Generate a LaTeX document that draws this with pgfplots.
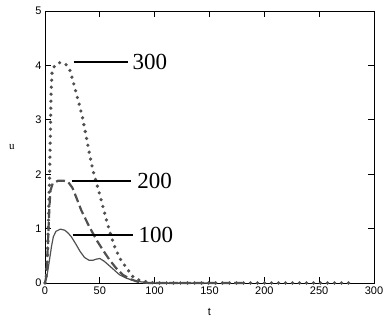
\documentclass[border=0pt]{standalone}
\usepackage{fontspec}
\setmainfont{Liberation Sans}
\newfontfamily\serifx{Liberation Serif}
\usepackage{pgfplots}
\pgfplotsset{compat=1.18}
\definecolor{curve}{RGB}{80,80,80}
\begin{document}
\begin{tikzpicture}
\useasboundingbox (-45pt,-38pt) rectangle (342pt,283pt);
\begin{axis}[
  at={(0,0)}, anchor=south west,
  scale only axis, width=329pt, height=272pt,
  xmin=0, xmax=300, ymin=0, ymax=5,
  xtick={0,50,...,300}, ytick={0,1,...,5},
  tick align=inside, major tick length=6pt,
  tick style={black, line width=0.8pt},
  axis line style={black, line width=0.9pt},
  /pgf/number format/assume math mode=true,
  ticklabel style={font=\fontsize{11}{11}\selectfont},
  xlabel={t}, ylabel={u},
  xlabel style={font=\fontsize{11}{11}\selectfont, at={(axis description cs:0.5,0)}, yshift=-29pt, anchor=center},
  ylabel style={font=\serifx\fontsize{11}{11}\selectfont, rotate=-90, at={(axis description cs:0,0.5)}, xshift=-33pt, anchor=center},
  clip=false,
]
% 300 dotted
\addplot[curve, line width=3.6pt, line cap=round, dash pattern=on 0pt off 7pt] coordinates {
(0,0) (1,0.1) (2,0.4) (3,1.0) (4,1.8) (5,2.8) (5.5,3.5) (6.5,3.9) (9,4.0) (13,4.05) (16,4.05) (19,4.02) (23,3.9) (27,3.6) (31,3.3) (34,3.06) (38,2.65) (41,2.33) (44,2.05) (50,1.62) (56,1.16) (60,0.88) (64,0.64) (69,0.43) (74.5,0.27) (80,0.12) (85,0.06) (90,0.03) (100,0) (280,0)};
% 200 dashed
\addplot[curve, line width=2.2pt, dash pattern=on 9pt off 4pt] coordinates {
(0,0) (1,0.1) (2,0.4) (3,0.9) (4,1.4) (5,1.7) (7,1.83) (12,1.88) (17,1.88) (21,1.86) (25,1.75) (29,1.55) (33,1.34) (40,1.05) (47,0.79) (53,0.6) (59,0.42) (65,0.27) (71,0.15) (78,0.07) (85,0.02) (95,0) (180,0)};
% 100 solid
\addplot[curve, line width=1.2pt] coordinates {
(0,0.02) (1.5,0.1) (3,0.28) (4.5,0.48) (6,0.68) (7.6,0.85) (10,0.95) (14,0.99) (18,0.97) (21,0.92) (24,0.85) (28,0.72) (32,0.58) (36,0.47) (40,0.42) (44,0.42) (47,0.44) (50,0.45) (54,0.4) (58,0.33) (63,0.24) (68,0.15) (74,0.09) (80,0.05) (88,0.02) (95,0) (150,0)};
% label lines
\addplot[black, line width=1.6pt] coordinates {(26,4.06) (75.7,4.06)};
\addplot[black, line width=1.6pt] coordinates {(24.6,1.875) (78.4,1.875)};
\addplot[black, line width=1.6pt] coordinates {(25.2,0.88) (80.6,0.88)};
\node[font=\serifx\fontsize{23}{23}\selectfont, anchor=center] at (axis cs:95.7,4.06) {300};
\node[font=\serifx\fontsize{23}{23}\selectfont, anchor=center] at (axis cs:100,1.875) {200};
\node[font=\serifx\fontsize{23}{23}\selectfont, anchor=center] at (axis cs:101,0.88) {100};
\end{axis}
\end{tikzpicture}
\end{document}
